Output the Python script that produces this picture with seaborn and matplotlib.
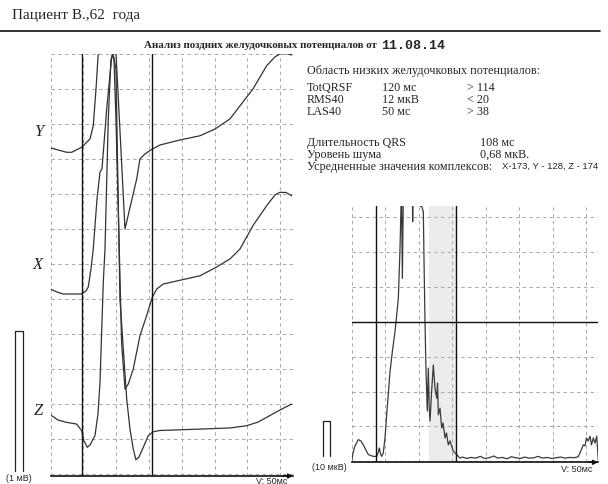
import numpy as np
import pandas as pd
import matplotlib
matplotlib.use("Agg")
import matplotlib.pyplot as plt
from matplotlib.lines import Line2D
import seaborn as sns

# ---------------- data ----------------
# Left panel: averaged leads, time (ms) / amplitude (mV)
y_t = [0, 24.4, 32.0, 47.3, 59.9, 64.9, 69.1, 72.6, 84.3, 99.5, 113.3, 131.1, 136.1, 143.7,
       154.9, 166.6, 197.1, 227.6, 250.5, 273.3, 293.1, 308.4, 329.3, 341.9, 349.5, 358.7, 367.4]
y_v = [2.329, 2.298, 2.298, 2.334, 2.393, 2.488, 2.75, 3.014, 3.6, 3.014, 1.75, 2.107, 2.25, 2.286,
       2.321, 2.35, 2.386, 2.416, 2.464, 2.536, 2.657, 2.75, 2.916, 2.979, 3.0, 3.004, 2.993]

x_t = [0, 9.6, 18.8, 47.3, 53.8, 57.3, 61.4, 64.9, 70.6, 75.2, 78.2, 85.4, 93.0, 94.2, 96.5, 99.5,
       108.2, 113.3, 118.3, 125.9, 136.1, 146.3, 154.9, 161.6, 171.6, 227.6, 253.1, 273.3, 288.6,
       308.4, 329.3, 341.9, 349.5, 358.7, 367.4]
x_v = [1.321, 1.3, 1.286, 1.286, 1.307, 1.336, 1.464, 1.607, 1.964, 2.157, 2.179, 2.607, 2.979,
       3.007, 2.964, 2.536, 0.929, 0.607, 0.643, 0.75, 0.988, 1.131, 1.262, 1.321, 1.357, 1.416,
       1.479, 1.536, 1.607, 1.774, 1.916, 1.993, 2.012, 2.011, 1.988]

z_t = [0, 11.1, 24.4, 39.6, 47.3, 50.8, 55.8, 59.9, 67.5, 72.1, 75.2, 80.2, 82.8, 87.8, 91.9, 95.7,
       99.5, 105.6, 115.9, 120.9, 125.9, 130.0, 134.6, 141.2, 148.8, 156.4, 166.6, 227.6, 273.3,
       298.8, 316.0, 329.3, 349.5, 367.4]
z_v = [0.421, 0.386, 0.369, 0.357, 0.309, 0.236, 0.191, 0.207, 0.274, 0.429, 0.657, 1.371, 1.607,
       2.536, 2.964, 2.986, 2.893, 1.25, 0.536, 0.321, 0.179, 0.102, 0.121, 0.191, 0.274, 0.302,
       0.311, 0.321, 0.329, 0.345, 0.371, 0.405, 0.457, 0.5]

qrs_on_left, qrs_off_left = 47, 155          # ms
lead_labels = ["Y", "X", "Z"]
lead_label_levels = [2.45, 1.5, 0.46]        # mV

# Right panel: filtered vector magnitude, time (ms) / amplitude (µV)
f_t = [0, 1.9, 4.9, 9.9, 13.9, 17.3, 21.3, 24.8, 32.2, 37.3, 39.3, 41.2, 43.0, 44.8, 47.2, 49.7,
       52.2, 57.2, 60.9, 64.6, 69.6, 72.1, 73.6, 74.4, 75.6, 77.0, 78.8, 90.4, 91.0, 91.6, 99.0,
       101.9, 104.9, 106.9, 107.9, 109.4, 110.9, 112.8, 114.3, 115.7, 116.9, 119.1, 121.8, 124.3,
       126.9, 128.1, 129.3, 131.8, 134.3, 136.3, 139.3, 141.5, 144.2, 146.7, 151.6, 156.7, 161.6,
       165, 172, 178, 185, 192, 198, 205, 212, 218, 225, 232, 238, 245, 252, 258, 265, 272, 278,
       285, 292, 298, 305, 312, 318, 325, 332, 338, 340.7, 345.7, 348.2, 350.4, 353.1, 355.7,
       357.9, 360.6, 363.1, 365.7, 368.1]
f_v = [0, 2.4, 4.4, 6.2, 5.8, 4.7, 3.2, 1.9, 1.4, 1.4, 2.4, 3.8, 2.1, 1.4, 2.4, 6.7,
       13.3, 25.7, 31.8, 37.1, 46.7, 61.0, 73.3, 76.6, 52.4, 75.0, 89.5, 78.0, 68.7, 78.0, 86.7,
       73.3, 72.9, 71.5, 58.1, 40.1, 25.8, 14.4, 26.7, 15.2, 11.5, 19.5, 27.6, 20.9,
       18.1, 22.4, 13.3, 15.2, 9.5, 11.0, 6.7, 8.1, 4.7, 5.8, 2.9, 1.9, 0.9,
       1.2, 0.8, 1.1, 0.9, 1.4, 0.8, 1.0, 1.5, 0.9, 1.1, 0.7, 1.3, 1.0, 0.8, 1.2, 0.9, 1.0, 1.4,
       0.9, 1.1, 0.8, 1.0, 1.2, 0.9, 1.1, 1.0, 1.3, 2.4, 4.7, 4.4, 6.7, 5.8, 7.2,
       4.7, 6.7, 5.2, 7.2, 0]

qrs_on_right, qrs_off_right = 36, 156        # ms
las_start = 116                              # ms (last 40 ms)
threshold = 40                               # µV

# ---------------- figure ----------------
sns.set_theme(style="white")
plt.rcParams["font.family"] = ["Liberation Serif", "DejaVu Serif"]

W, H = 608, 485
fig = plt.figure(figsize=(W / 100, H / 100), dpi=100)
fig.patch.set_facecolor("white")


def px_rect(x0, y0, x1, y1):
    return [x0 / W, 1 - y1 / H, (x1 - x0) / W, (y1 - y0) / H]


def fx(x):
    return x / W


def fy(y):
    return 1 - y / H


grid_kw = dict(color="#a8a8a8", lw=0.7, ls=(0, (3.5, 3.5)))
curve_col = "#333333"

# ---- left panel ----
axL = fig.add_axes(px_rect(50.7, 55, 293, 477))
df = pd.concat([
    pd.DataFrame({"t": y_t, "v": y_v, "lead": "Y"}),
    pd.DataFrame({"t": x_t, "v": x_v, "lead": "X"}),
    pd.DataFrame({"t": z_t, "v": z_v, "lead": "Z"}),
])
sns.lineplot(data=df, x="t", y="v", hue="lead", units="lead", estimator=None, sort=False,
             palette={"Y": curve_col, "X": curve_col, "Z": curve_col}, lw=0.9,
             legend=False, ax=axL)
axL.set_xlim(0, 369.5)
axL.set_ylim(-0.014, 3.0)
axL.set_xticks(np.arange(0, 351, 50))
axL.set_yticks(np.arange(0, 3.01, 0.25))
axL.grid(True, **grid_kw)
axL.axvline(qrs_on_left, color="#111111", lw=1.0)
axL.axvline(qrs_off_left, color="#111111", lw=1.0)
for lab, lev in zip(lead_labels, lead_label_levels):
    axL.text(-12, lev, lab, ha="right", va="center", fontsize=12, style="italic",
             family=["Liberation Serif"], color="#222222")
# 1 mV scale bar
axL.plot([-54.4, -54.4, -42.7, -42.7], [0.024, 1.024, 1.024, 0.024], color="#222222",
         lw=0.9, clip_on=False)

# ---- right panel ----
axR = fig.add_axes(px_rect(351.7, 207, 598, 463.3))
axR.axvspan(las_start, qrs_off_right, color="#ececec", lw=0, zorder=0)
dff = pd.DataFrame({"t": f_t, "v": f_v})
sns.lineplot(data=dff, x="t", y="v", estimator=None, sort=False, color="#3a3a3a", lw=0.9,
             ax=axR)
axR.set_xlim(0, 367.6)
axR.set_ylim(-0.3, 73.2)
axR.set_xticks(np.arange(0, 351, 50))
axR.set_yticks(np.arange(0, 71, 10))
axR.grid(True, **grid_kw)
axR.axvline(qrs_on_right, color="#111111", lw=1.0)
axR.axvline(qrs_off_right, color="#111111", lw=1.0)
axR.axhline(threshold, color="#111111", lw=1.0)
# 10 µV scale bar
axR.plot([-42.8, -42.8, -32.4, -32.4], [1.5, 11.5, 11.5, 1.5], color="#222222", lw=0.9,
         clip_on=False)

for ax in (axL, axR):
    ax.set_xlabel("")
    ax.set_ylabel("")
    ax.tick_params(length=0, labelbottom=False, labelleft=False)
    for s in ("top", "right", "left"):
        ax.spines[s].set_visible(False)
    ax.spines["bottom"].set_color("#111111")
    ax.spines["bottom"].set_linewidth(1.2)
    ax.set_facecolor("white")
    ax.annotate("", xy=(1.0, 0), xytext=(0.96, 0), xycoords="axes fraction",
                arrowprops=dict(arrowstyle="-|>", color="#111111", lw=1.0,
                                mutation_scale=7, shrinkA=0, shrinkB=0),
                annotation_clip=False)

# ---------------- texts ----------------
fig.text(fx(12), fy(16), "Пациент В.,62  года", fontsize=11, ha="left", va="center")
fig.add_artist(Line2D([0, 600 / W], [fy(32), fy(32)], color="#111111", lw=1.2))
fig.text(fx(377), fy(46), "Анализ поздних желудочковых потенциалов от", fontsize=7.9,
         weight="bold", ha="right", va="center")
fig.text(fx(381), fy(46), "11.08.14", fontsize=9.5, ha="left", va="center",
         family=["Liberation Mono", "DejaVu Sans Mono"], weight="bold")

fs = 8.7
fig.text(fx(306.7), fy(71), "Область низких желудочковых потенциалов:", fontsize=fs,
         ha="left", va="center")
rows = [("TotQRSF", "120 мс", "> 114"), ("RMS40", "12 мкВ", "< 20"), ("LAS40", "50 мс", "> 38")]
for i, (a, b, c) in enumerate(rows):
    yy = fy(88.3 + i * 11.7)
    fig.text(fx(306.7), yy, a, fontsize=fs, ha="left", va="center")
    fig.text(fx(381.7), yy, b, fontsize=fs, ha="left", va="center")
    fig.text(fx(466.7), yy, c, fontsize=fs, ha="left", va="center")
fig.text(fx(306.7), fy(143.3), "Длительность QRS", fontsize=fs, ha="left", va="center")
fig.text(fx(480), fy(143.3), "108 мс", fontsize=fs, ha="left", va="center")
fig.text(fx(306.7), fy(155), "Уровень шума", fontsize=fs, ha="left", va="center")
fig.text(fx(480), fy(155), "0,68 мкВ.", fontsize=fs, ha="left", va="center")
fig.text(fx(306.7), fy(166.7), "Усредненные значения комплексов:", fontsize=fs,
         ha="left", va="center")
fig.text(fx(598), fy(166.7), "X-173, Y - 128, Z - 174", fontsize=6.8, ha="right",
         va="center", family=["Liberation Sans", "DejaVu Sans"])

sans = ["Liberation Sans", "DejaVu Sans"]
fig.text(fx(18.5), fy(479), "(1 мВ)", fontsize=6.5, ha="center", va="center", family=sans)
fig.text(fx(329), fy(468), "(10 мкВ)", fontsize=6.5, ha="center", va="center", family=sans)
fig.text(fx(272), fy(482), "V: 50мс", fontsize=6.5, ha="center", va="center", family=sans)
fig.text(fx(577), fy(470), "V: 50мс", fontsize=6.5, ha="center", va="center", family=sans)

fig.savefig("out.png", dpi=100, facecolor="white")
